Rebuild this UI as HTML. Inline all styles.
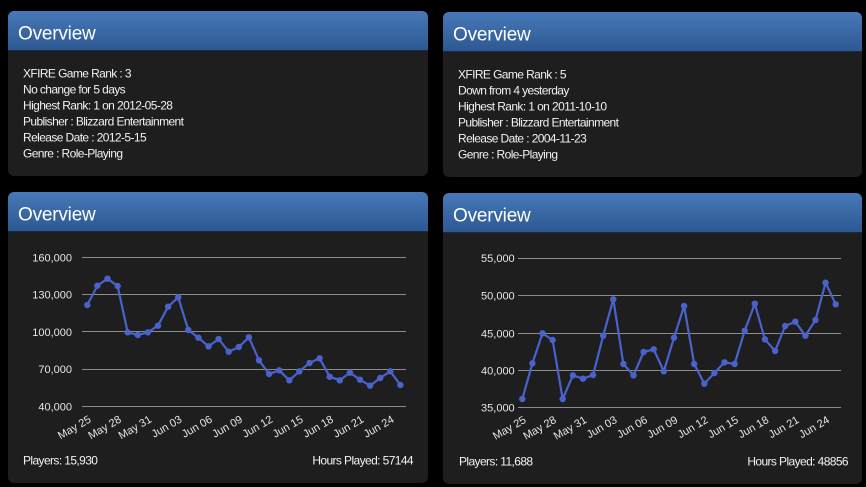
<!DOCTYPE html>
<html><head><meta charset="utf-8"><style>
html,body{margin:0;padding:0;background:#000;width:866px;height:487px;overflow:hidden}
svg{display:block}
.t{font-family:"Liberation Sans",Arial,sans-serif}
</style></head><body>
<svg width="866" height="487" viewBox="0 0 866 487" xmlns="http://www.w3.org/2000/svg" class="t">
<defs>
<linearGradient id="hg" x1="0" y1="0" x2="0" y2="1">
<stop offset="0" stop-color="#4878b8"/><stop offset="1" stop-color="#2c5891"/>
</linearGradient>
<clipPath id="c1"><rect x="8" y="11" width="420" height="165" rx="6"/></clipPath>
<clipPath id="c2"><rect x="443" y="12" width="419" height="165" rx="6"/></clipPath>
<clipPath id="c3"><rect x="8" y="192" width="420" height="291" rx="6"/></clipPath>
<clipPath id="c4"><rect x="443" y="193" width="419" height="291" rx="6"/></clipPath>
</defs>
<rect width="866" height="487" fill="#000"/>

<!-- Panel 1 -->
<g clip-path="url(#c1)">
<rect x="8" y="11" width="420" height="165" fill="#1e1e1e"/>
<rect x="8" y="11" width="420" height="40" fill="url(#hg)"/>
<rect x="8" y="50" width="420" height="1" fill="#1a2a40"/>
</g>
<text x="18" y="39.5" font-size="19" fill="#fff" letter-spacing="-0.2">Overview</text>
<g font-size="12" fill="#f2f2f2" letter-spacing="-0.6">
<text x="23" y="77.7">XFIRE Game Rank : 3</text>
<text x="23" y="93.7">No change for 5 days</text>
<text x="23" y="109.7">Highest Rank: 1 on 2012-05-28</text>
<text x="23" y="125.7">Publisher : Blizzard Entertainment</text>
<text x="23" y="141.7">Release Date : 2012-5-15</text>
<text x="23" y="157.7">Genre : Role-Playing</text>
</g>

<!-- Panel 2 -->
<g clip-path="url(#c2)">
<rect x="443" y="12" width="419" height="165" fill="#1e1e1e"/>
<rect x="443" y="12" width="419" height="40" fill="url(#hg)"/>
<rect x="443" y="51" width="419" height="1" fill="#1a2a40"/>
</g>
<text x="453" y="40.5" font-size="19" fill="#fff" letter-spacing="-0.2">Overview</text>
<g font-size="12" fill="#f2f2f2" letter-spacing="-0.6">
<text x="458" y="78.7">XFIRE Game Rank : 5</text>
<text x="458" y="94.7">Down from 4 yesterday</text>
<text x="458" y="110.7">Highest Rank: 1 on 2011-10-10</text>
<text x="458" y="126.7">Publisher : Blizzard Entertainment</text>
<text x="458" y="142.7">Release Date : 2004-11-23</text>
<text x="458" y="158.7">Genre : Role-Playing</text>
</g>

<!-- Panel 3 -->
<g clip-path="url(#c3)">
<rect x="8" y="192" width="420" height="291" fill="#1e1e1e"/>
<rect x="8" y="192" width="420" height="40" fill="url(#hg)"/>
<rect x="8" y="231" width="420" height="1" fill="#1a2a40"/>
</g>
<text x="18" y="220.7" font-size="19" fill="#fff" letter-spacing="-0.2">Overview</text>
<g stroke="#8c8c8c" stroke-width="1">
<line x1="82" y1="257.5" x2="406" y2="257.5"/>
<line x1="82" y1="294.5" x2="406" y2="294.5"/>
<line x1="82" y1="331.5" x2="406" y2="331.5"/>
<line x1="82" y1="369.5" x2="406" y2="369.5"/>
<line x1="82" y1="406.5" x2="406" y2="406.5"/>
</g>
<g font-size="11" fill="#e6e6e6" text-anchor="end">
<text x="72" y="261.3">160,000</text>
<text x="72" y="298.5">130,000</text>
<text x="72" y="335.8">100,000</text>
<text x="72" y="373">70,000</text>
<text x="72" y="410.3">40,000</text>
</g>
<polyline fill="none" stroke="#4a63cc" stroke-width="2.2" stroke-linejoin="round" points="87.3,305 97.4,285.7 107.5,278.7 117.6,286 127.7,332.3 137.8,335 147.9,332.3 158,325.7 168.1,306.7 178.2,297.3 188.3,330 198.4,337.7 208.5,346.3 218.6,339 228.7,351.7 238.8,347 248.9,337.3 259,360.3 269.1,374 279.2,370.3 289.3,380.3 299.4,371.3 309.5,363 319.6,358.3 329.7,376.7 339.8,380.3 349.9,372.7 360,379.7 370.1,385.7 380.2,378 390.3,371.3 400.4,385"/>
<g fill="#4a63cc">
<circle cx="87.3" cy="305" r="3.2"/><circle cx="97.4" cy="285.7" r="3.2"/><circle cx="107.5" cy="278.7" r="3.2"/><circle cx="117.6" cy="286" r="3.2"/><circle cx="127.7" cy="332.3" r="3.2"/><circle cx="137.8" cy="335" r="3.2"/><circle cx="147.9" cy="332.3" r="3.2"/><circle cx="158" cy="325.7" r="3.2"/><circle cx="168.1" cy="306.7" r="3.2"/><circle cx="178.2" cy="297.3" r="3.2"/><circle cx="188.3" cy="330" r="3.2"/><circle cx="198.4" cy="337.7" r="3.2"/><circle cx="208.5" cy="346.3" r="3.2"/><circle cx="218.6" cy="339" r="3.2"/><circle cx="228.7" cy="351.7" r="3.2"/><circle cx="238.8" cy="347" r="3.2"/><circle cx="248.9" cy="337.3" r="3.2"/><circle cx="259" cy="360.3" r="3.2"/><circle cx="269.1" cy="374" r="3.2"/><circle cx="279.2" cy="370.3" r="3.2"/><circle cx="289.3" cy="380.3" r="3.2"/><circle cx="299.4" cy="371.3" r="3.2"/><circle cx="309.5" cy="363" r="3.2"/><circle cx="319.6" cy="358.3" r="3.2"/><circle cx="329.7" cy="376.7" r="3.2"/><circle cx="339.8" cy="380.3" r="3.2"/><circle cx="349.9" cy="372.7" r="3.2"/><circle cx="360" cy="379.7" r="3.2"/><circle cx="370.1" cy="385.7" r="3.2"/><circle cx="380.2" cy="378" r="3.2"/><circle cx="390.3" cy="371.3" r="3.2"/><circle cx="400.4" cy="385" r="3.2"/>
</g>
<g font-size="11" fill="#e6e6e6" text-anchor="end">
<text transform="translate(91.8,421.5) rotate(-30)">May 25</text>
<text transform="translate(122.1,421.5) rotate(-30)">May 28</text>
<text transform="translate(152.4,421.5) rotate(-30)">May 31</text>
<text transform="translate(182.7,421.5) rotate(-30)">Jun 03</text>
<text transform="translate(213,421.5) rotate(-30)">Jun 06</text>
<text transform="translate(243.3,421.5) rotate(-30)">Jun 09</text>
<text transform="translate(273.6,421.5) rotate(-30)">Jun 12</text>
<text transform="translate(303.9,421.5) rotate(-30)">Jun 15</text>
<text transform="translate(334.2,421.5) rotate(-30)">Jun 18</text>
<text transform="translate(364.5,421.5) rotate(-30)">Jun 21</text>
<text transform="translate(394.8,421.5) rotate(-30)">Jun 24</text>
</g>
<g font-size="12" fill="#f2f2f2" letter-spacing="-0.6">
<text x="23" y="464.5">Players: 15,930</text>
<text x="413" y="464.5" text-anchor="end">Hours Played: 57144</text>
</g>

<!-- Panel 4 -->
<g clip-path="url(#c4)">
<rect x="443" y="193" width="419" height="291" fill="#1e1e1e"/>
<rect x="443" y="193" width="419" height="40" fill="url(#hg)"/>
<rect x="443" y="232" width="419" height="1" fill="#1a2a40"/>
</g>
<text x="453" y="221.7" font-size="19" fill="#fff" letter-spacing="-0.2">Overview</text>
<g stroke="#8c8c8c" stroke-width="1">
<line x1="518" y1="258.5" x2="841" y2="258.5"/>
<line x1="518" y1="295.5" x2="841" y2="295.5"/>
<line x1="518" y1="333.5" x2="841" y2="333.5"/>
<line x1="518" y1="370.5" x2="841" y2="370.5"/>
<line x1="518" y1="407.5" x2="841" y2="407.5"/>
</g>
<g font-size="11" fill="#e6e6e6" text-anchor="end">
<text x="514.7" y="262">55,000</text>
<text x="514.7" y="299.3">50,000</text>
<text x="514.7" y="337.3">45,000</text>
<text x="514.7" y="374.3">40,000</text>
<text x="514.7" y="411.3">35,000</text>
</g>
<polyline fill="none" stroke="#4a63cc" stroke-width="2.2" stroke-linejoin="round" points="522.3,399 532.4,363.3 542.5,333.3 552.6,340 562.7,399 572.9,375.3 583,378.7 593.1,375 603.2,335.7 613.3,299.3 623.4,364 633.5,375.3 643.6,352 653.7,349.3 663.8,371.3 674,337.7 684.1,306 694.2,364 704.3,383.7 714.4,373 724.5,362.3 734.6,364 744.7,330.7 754.8,303.7 764.9,339.3 775.1,351 785.2,326 795.3,321.7 805.4,335.7 815.5,320 825.6,282.7 835.7,304.3"/>
<g fill="#4a63cc">
<circle cx="522.3" cy="399" r="3.2"/><circle cx="532.4" cy="363.3" r="3.2"/><circle cx="542.5" cy="333.3" r="3.2"/><circle cx="552.6" cy="340" r="3.2"/><circle cx="562.7" cy="399" r="3.2"/><circle cx="572.9" cy="375.3" r="3.2"/><circle cx="583" cy="378.7" r="3.2"/><circle cx="593.1" cy="375" r="3.2"/><circle cx="603.2" cy="335.7" r="3.2"/><circle cx="613.3" cy="299.3" r="3.2"/><circle cx="623.4" cy="364" r="3.2"/><circle cx="633.5" cy="375.3" r="3.2"/><circle cx="643.6" cy="352" r="3.2"/><circle cx="653.7" cy="349.3" r="3.2"/><circle cx="663.8" cy="371.3" r="3.2"/><circle cx="674" cy="337.7" r="3.2"/><circle cx="684.1" cy="306" r="3.2"/><circle cx="694.2" cy="364" r="3.2"/><circle cx="704.3" cy="383.7" r="3.2"/><circle cx="714.4" cy="373" r="3.2"/><circle cx="724.5" cy="362.3" r="3.2"/><circle cx="734.6" cy="364" r="3.2"/><circle cx="744.7" cy="330.7" r="3.2"/><circle cx="754.8" cy="303.7" r="3.2"/><circle cx="764.9" cy="339.3" r="3.2"/><circle cx="775.1" cy="351" r="3.2"/><circle cx="785.2" cy="326" r="3.2"/><circle cx="795.3" cy="321.7" r="3.2"/><circle cx="805.4" cy="335.7" r="3.2"/><circle cx="815.5" cy="320" r="3.2"/><circle cx="825.6" cy="282.7" r="3.2"/><circle cx="835.7" cy="304.3" r="3.2"/>
</g>
<g font-size="11" fill="#e6e6e6" text-anchor="end">
<text transform="translate(526.8,422) rotate(-30)">May 25</text>
<text transform="translate(557.1,422) rotate(-30)">May 28</text>
<text transform="translate(587.5,422) rotate(-30)">May 31</text>
<text transform="translate(617.8,422) rotate(-30)">Jun 03</text>
<text transform="translate(648.2,422) rotate(-30)">Jun 06</text>
<text transform="translate(678.5,422) rotate(-30)">Jun 09</text>
<text transform="translate(708.8,422) rotate(-30)">Jun 12</text>
<text transform="translate(739.2,422) rotate(-30)">Jun 15</text>
<text transform="translate(769.5,422) rotate(-30)">Jun 18</text>
<text transform="translate(799.8,422) rotate(-30)">Jun 21</text>
<text transform="translate(830.2,422) rotate(-30)">Jun 24</text>
</g>
<g font-size="12" fill="#f2f2f2" letter-spacing="-0.6">
<text x="459" y="465.5">Players: 11,688</text>
<text x="848" y="465.5" text-anchor="end">Hours Played: 48856</text>
</g>
</svg>
</body></html>
